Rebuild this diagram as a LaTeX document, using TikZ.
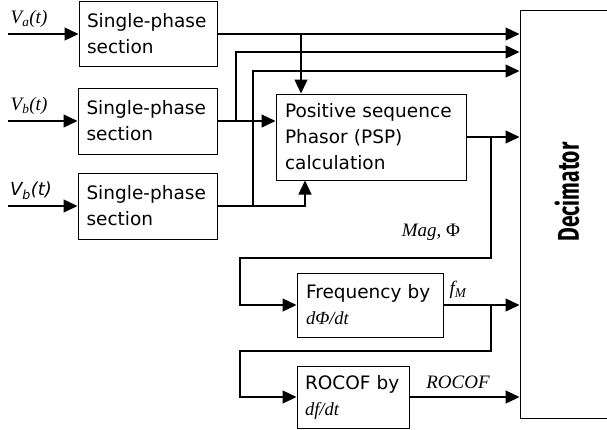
\documentclass[tikz,border=0pt]{standalone}
\usepackage{fontspec}
\setmainfont{DejaVu Sans}
\newfontfamily\tnr{Liberation Serif}
\newfontfamily\decfont{Fira Sans}[FakeStretch=0.7]
\usetikzlibrary{arrows.meta}
\begin{document}
\begin{tikzpicture}[x=1pt,y=-1pt,
  blk/.style={draw,line width=1pt,inner sep=0pt,align=left,
    font=\fontsize{18.5}{26}\selectfont},
  wire/.style={line width=1.3pt},
  arr/.style={wire,-{Triangle[length=14pt,width=13pt]}},
  lbl/.style={inner sep=0pt,font=\tnr\itshape\fontsize{19}{22}\selectfont}]
\useasboundingbox (0,0) rectangle (607,429);
% blocks
\node[blk,minimum width=138pt,minimum height=65pt,text width=122pt] (A) at (148,34) {Single-phase\\section};
\node[blk,minimum width=139pt,minimum height=66pt,text width=122pt] (B) at (147.5,121) {Single-phase\\section};
\node[blk,minimum width=139pt,minimum height=66pt,text width=122pt] (C) at (147.5,206) {Single-phase\\section};
\node[blk,minimum width=190pt,minimum height=86pt,text width=172pt] (psp) at (371,137) {Positive sequence\\Phasor (PSP)\\calculation};
\node[blk,minimum width=146pt,minimum height=64pt,text width=128pt] (freq) at (370,305) {Frequency by\\{\tnr\itshape d}{\tnr\itshape Φ/dt}};
\node[blk,minimum width=112pt,minimum height=62pt,text width=96pt] (rocof) at (353,397) {ROCOF by\\{\tnr\itshape df/dt}};
\node[draw,line width=1pt,minimum width=120pt,minimum height=408pt] (dec) at (580,214) {};
\node[rotate=90,inner sep=0pt,font=\decfont\bfseries\fontsize{30}{32}\selectfont] (dectxt) at (567,192) {Decimator};
% labels
\node[lbl] (la) at (29,19) {V\textsubscript{a}(t)};
\node[lbl] (lb) at (29,106) {V\textsubscript{b}(t)};
\node[inner sep=0pt,font=\itshape\fontsize{18}{20}\selectfont] (lc) at (31,191) {V\textsubscript{b}(t)};
\node[lbl] (mag) at (431,232) {Mag, {\upshape Φ}};
\node[lbl] (fm) at (458,290) {f\textsubscript{M}};
\node[lbl] (rl) at (458,382) {ROCOF};
% coordinates
\coordinate (inA) at (8,34);
\coordinate (inB) at (8,121);
\coordinate (inC) at (8,206);
\coordinate (x301) at (301,0);
\coordinate (x236) at (236,52);
\coordinate (x253) at (253,71);
\coordinate (x305) at (305,0);
\coordinate (x491) at (491,0);
\coordinate (t1) at (240,258);
\coordinate (t2) at (240,351);
% inputs
\draw[arr] (inA) -- (A.west);
\draw[arr] (inB) -- (B.west);
\draw[arr] (inC) -- (C.west);
% A output
\draw[arr] (A.east) -- (A.east -| dec.west);
\draw[arr] (A.east -| x301) -- (psp.north -| x301);
% B output
\draw[arr] (B.east) -- (B.east -| psp.west);
\draw[arr] (B.east -| x236) -- (x236) -- (x236 -| dec.west);
% C output
\draw[arr] (C.east) -| (psp.south -| x305);
\draw[arr] (C.east -| x253) -- (x253) -- (x253 -| dec.west);
% PSP output
\draw[arr] (psp.east) -- (psp.east -| dec.west);
\draw[arr] (psp.east -| x491) -- (t1 -| x491) -- (t1) |- (freq.west);
% Freq output
\draw[arr] (freq.east) -- (freq.east -| dec.west);
\draw[arr] (freq.east -| x491) -- (t2 -| x491) -- (t2) |- (rocof.west);
% ROCOF output
\draw[arr] (rocof.east) -- (rocof.east -| dec.west);
\end{tikzpicture}
\end{document}
